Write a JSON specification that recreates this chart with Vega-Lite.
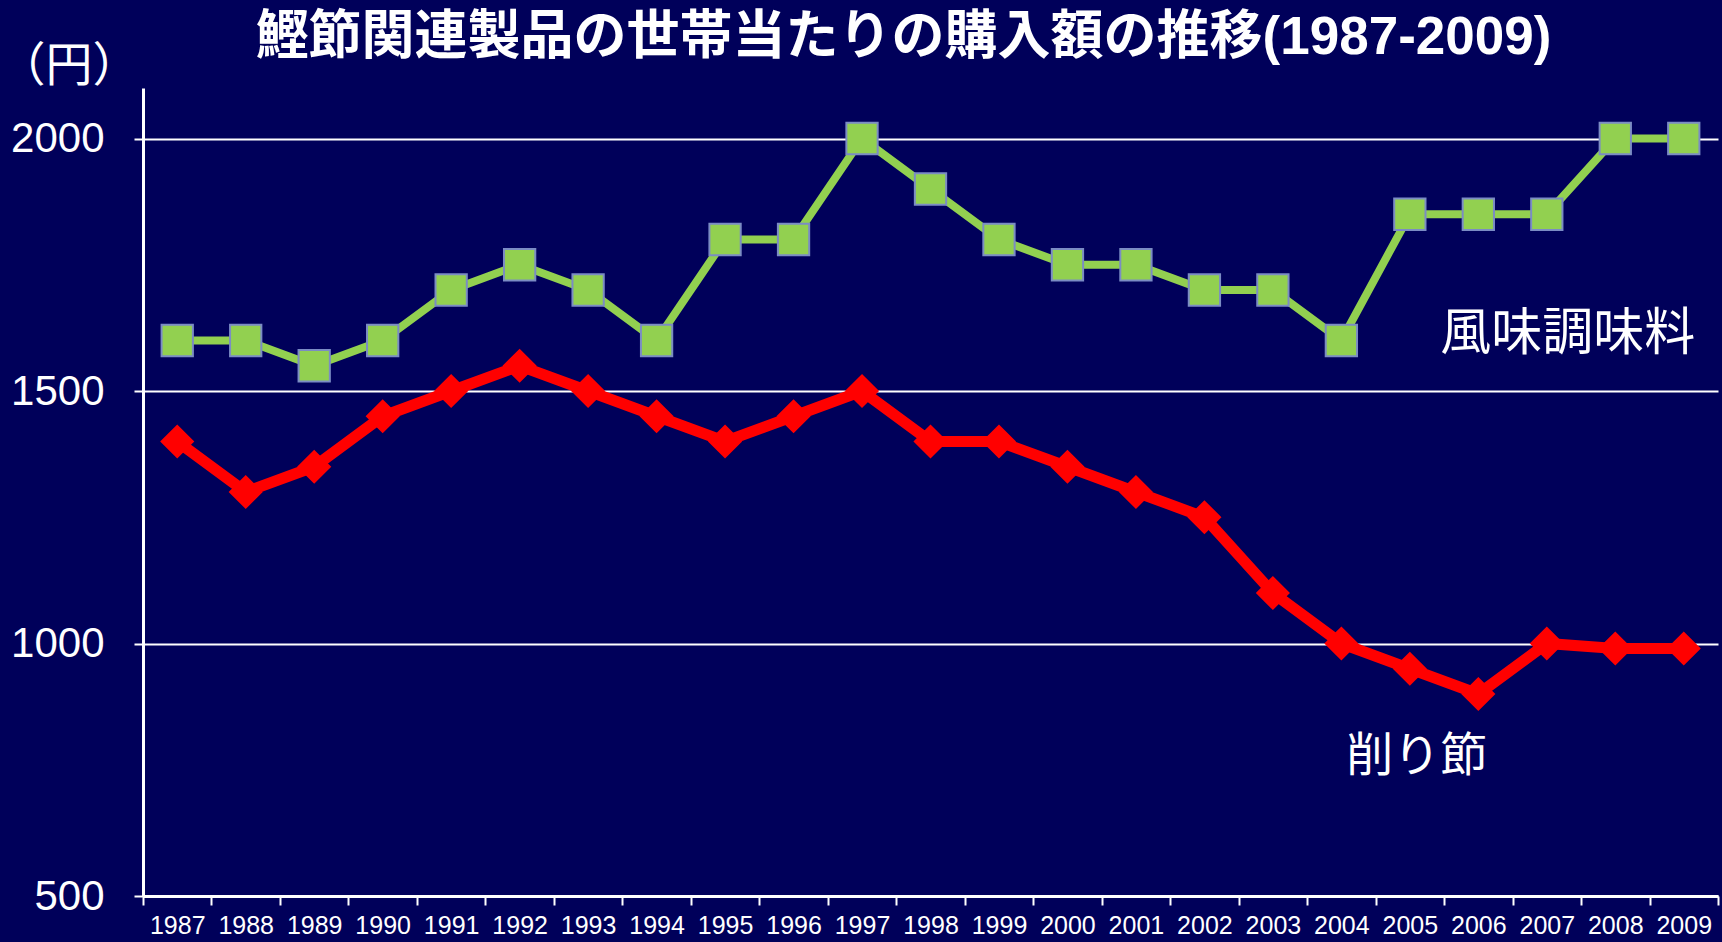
{
  "$schema": "https://vega.github.io/schema/vega-lite/v6.json",
  "width": 1575,
  "height": 808,
  "autosize": {"type": "none"},
  "padding": {"left": 143, "top": 88, "right": 4, "bottom": 46},
  "background": "#00005a",
  "title": {
    "text": "鰹節関連製品の世帯当たりの購入額の推移(1987-2009)",
    "font": "Liberation Sans, Noto Sans CJK JP",
    "fontSize": 53,
    "fontWeight": "bold",
    "color": "#ffffff",
    "anchor": "middle",
    "frame": "group",
    "baseline": "bottom",
    "offset": -76,
    "dx": -27
  },
  "config": {
    "view": {"stroke": null},
    "axis": {"labelColor": "#ffffff", "titleColor": "#ffffff"}
  },
  "datasets": {
    "series": [
      {"year": "1987", "series": "風味調味料", "value": 1600},
      {"year": "1988", "series": "風味調味料", "value": 1600},
      {"year": "1989", "series": "風味調味料", "value": 1550},
      {"year": "1990", "series": "風味調味料", "value": 1600},
      {"year": "1991", "series": "風味調味料", "value": 1700},
      {"year": "1992", "series": "風味調味料", "value": 1750},
      {"year": "1993", "series": "風味調味料", "value": 1700},
      {"year": "1994", "series": "風味調味料", "value": 1600},
      {"year": "1995", "series": "風味調味料", "value": 1800},
      {"year": "1996", "series": "風味調味料", "value": 1800},
      {"year": "1997", "series": "風味調味料", "value": 2000},
      {"year": "1998", "series": "風味調味料", "value": 1900},
      {"year": "1999", "series": "風味調味料", "value": 1800},
      {"year": "2000", "series": "風味調味料", "value": 1750},
      {"year": "2001", "series": "風味調味料", "value": 1750},
      {"year": "2002", "series": "風味調味料", "value": 1700},
      {"year": "2003", "series": "風味調味料", "value": 1700},
      {"year": "2004", "series": "風味調味料", "value": 1600},
      {"year": "2005", "series": "風味調味料", "value": 1850},
      {"year": "2006", "series": "風味調味料", "value": 1850},
      {"year": "2007", "series": "風味調味料", "value": 1850},
      {"year": "2008", "series": "風味調味料", "value": 2000},
      {"year": "2009", "series": "風味調味料", "value": 2000},
      {"year": "1987", "series": "削り節", "value": 1400},
      {"year": "1988", "series": "削り節", "value": 1300},
      {"year": "1989", "series": "削り節", "value": 1350},
      {"year": "1990", "series": "削り節", "value": 1450},
      {"year": "1991", "series": "削り節", "value": 1500},
      {"year": "1992", "series": "削り節", "value": 1550},
      {"year": "1993", "series": "削り節", "value": 1500},
      {"year": "1994", "series": "削り節", "value": 1450},
      {"year": "1995", "series": "削り節", "value": 1400},
      {"year": "1996", "series": "削り節", "value": 1450},
      {"year": "1997", "series": "削り節", "value": 1500},
      {"year": "1998", "series": "削り節", "value": 1400},
      {"year": "1999", "series": "削り節", "value": 1400},
      {"year": "2000", "series": "削り節", "value": 1350},
      {"year": "2001", "series": "削り節", "value": 1300},
      {"year": "2002", "series": "削り節", "value": 1250},
      {"year": "2003", "series": "削り節", "value": 1100},
      {"year": "2004", "series": "削り節", "value": 1000},
      {"year": "2005", "series": "削り節", "value": 950},
      {"year": "2006", "series": "削り節", "value": 900},
      {"year": "2007", "series": "削り節", "value": 1000},
      {"year": "2008", "series": "削り節", "value": 990},
      {"year": "2009", "series": "削り節", "value": 990}
    ],
    "labels": [
      {"year": "2007", "value": 1610, "label": "風味調味料"},
      {"year": "2005", "value": 775, "label": "削り節"}
    ]
  },
  "encoding": {
    "x": {
      "field": "year",
      "type": "ordinal",
      "scale": {"type": "band", "paddingInner": 0, "paddingOuter": 0},
      "axis": {
        "title": null,
        "labelAngle": 0,
        "labelFont": "Liberation Sans",
        "labelFontSize": 25,
        "labelPadding": 8,
        "tickBand": "extent",
        "tickColor": "#ffffff",
        "tickSize": 9,
        "tickWidth": 2,
        "domainColor": "#ffffff",
        "domainWidth": 3,
        "grid": false
      }
    },
    "y": {
      "field": "value",
      "type": "quantitative",
      "scale": {"domain": [500, 2100], "nice": false, "zero": false},
      "axis": {
        "title": "（円）",
        "titleAngle": 0,
        "titleFont": "Noto Sans CJK JP",
        "titleFontSize": 47,
        "titleFontWeight": "normal",
        "titleAlign": "left",
        "titleBaseline": "middle",
        "titleX": -145,
        "titleY": -22,
        "values": [500, 1000, 1500, 2000],
        "format": "d",
        "labelFont": "Liberation Sans",
        "labelFontSize": 42,
        "labelPadding": 30,
        "tickColor": "#ffffff",
        "tickSize": 9,
        "tickWidth": 2,
        "domainColor": "#ffffff",
        "domainWidth": 3,
        "grid": true,
        "gridColor": "#ffffff",
        "gridWidth": 2
      }
    }
  },
  "layer": [
    {
      "data": {"name": "series"},
      "mark": {"type": "line"},
      "encoding": {
        "detail": {"field": "series"},
        "color": {
          "field": "series",
          "type": "nominal",
          "scale": {"domain": ["風味調味料", "削り節"], "range": ["#92d050", "#ff0000"]},
          "legend": null
        },
        "strokeWidth": {
          "field": "series",
          "type": "nominal",
          "scale": {"domain": ["風味調味料", "削り節"], "range": [8, 11]},
          "legend": null
        }
      }
    },
    {
      "data": {"name": "series"},
      "mark": {"type": "point", "filled": true, "size": 980, "opacity": 1, "strokeWidth": 2},
      "encoding": {
        "color": {"field": "series", "type": "nominal", "legend": null},
        "shape": {
          "field": "series",
          "type": "nominal",
          "scale": {"domain": ["風味調味料", "削り節"], "range": ["square", "diamond"]},
          "legend": null
        },
        "stroke": {
          "field": "series",
          "type": "nominal",
          "scale": {"domain": ["風味調味料", "削り節"], "range": ["#7b8cc4", "#ff0000"]},
          "legend": null
        }
      }
    },
    {
      "data": {"name": "labels"},
      "transform": [{"filter": "datum.label === '風味調味料'"}],
      "mark": {"type": "text", "font": "Noto Sans CJK JP", "fontSize": 51, "color": "#ffffff", "align": "center", "baseline": "middle", "dx": 21},
      "encoding": {
        "x": {"field": "year", "type": "ordinal", "bandPosition": 0.5},
        "text": {"field": "label"}
      }
    },
    {
      "data": {"name": "labels"},
      "transform": [{"filter": "datum.label === '削り節'"}],
      "mark": {"type": "text", "font": "Noto Sans CJK JP", "fontSize": 47, "color": "#ffffff", "align": "center", "baseline": "middle", "dx": 7},
      "encoding": {
        "x": {"field": "year", "type": "ordinal", "bandPosition": 0.5},
        "text": {"field": "label"}
      }
    }
  ]
}
